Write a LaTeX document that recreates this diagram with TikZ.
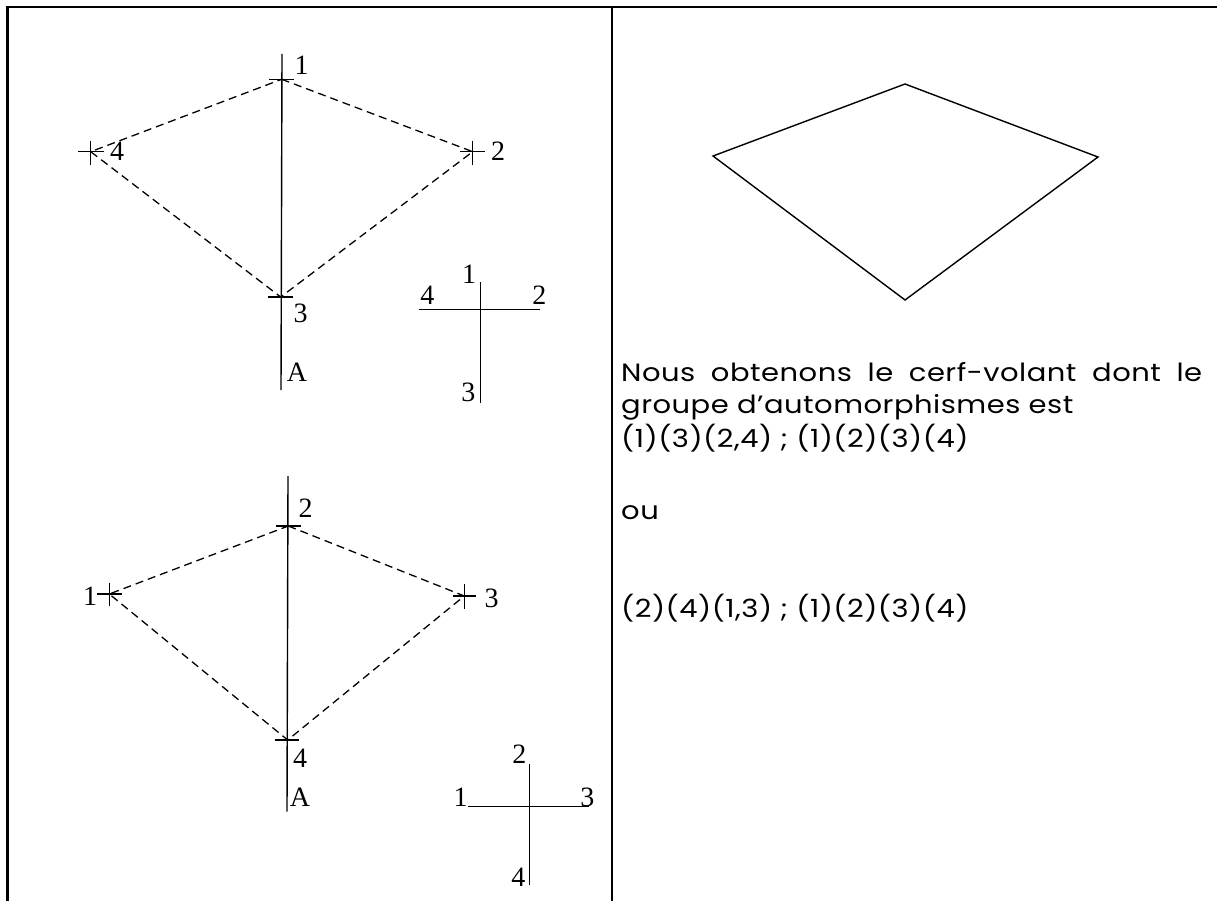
\documentclass[tikz,border=0pt]{standalone}
\usepackage{fontspec}
\setmainfont{Liberation Serif}
\newfontfamily\comicfont[LetterSpace=2,FakeStretch=1.16]{Poppins}
\begin{document}
\begin{tikzpicture}[x=1pt,y=-1pt,
  thinline/.style={line width=1.4pt},
  framestyle/.style={line width=2.6pt},
  dashline/.style={line width=1.3pt, dash pattern=on 8pt off 5pt},
  lbl/.style={font=\fontsize{28}{30}\selectfont, inner sep=0pt},
  txt/.style={font=\comicfont\fontsize{25}{28}\selectfont, inner sep=0pt, anchor=base west}]
\useasboundingbox (0,0) rectangle (1217,901);
% frame
\draw[framestyle] (7.5,901) -- (7.5,7) -- (1217,7);
\draw[framestyle] (612,7) -- (612,901);

% ---------- top-left figure ----------
\coordinate (a1) at (281.7,79.3);
\coordinate (a2) at (472.7,151.7);
\coordinate (a3) at (280.7,297);
\coordinate (a4) at (90.7,151.7);
\coordinate (aT) at (282,54);
\coordinate (aB) at (281,390);
\draw[thinline] (aT) -- (aB);
\draw[thinline] (a1) ++(-12.5,0) -- ++(25,0);
\draw[thinline] (a3) ++(-13,0) -- ++(25,0);
\draw[thinline] (a2) ++(-12.5,0) -- ++(25,0) (a2) ++(0,-11) -- ++(0,24);
\draw[thinline] (a4) ++(-13,0) -- ++(26,0) (a4) ++(0,-11) -- ++(0,24);
\draw[dashline] (a1) -- (a2) -- (a3) -- (a4) -- cycle;
\node[lbl] (la1) at (301.7,65) {1};
\node[lbl] (la2) at (498,151) {2};
\node[lbl] (la3) at (300.7,313) {3};
\node[lbl] (la4) at (117,151) {4};
\node[lbl] (laA) at (297,372) {A};

% top cross
\coordinate (c1L) at (419,309.3);
\coordinate (c1R) at (540,309.3);
\coordinate (c1T) at (480.3,282.3);
\coordinate (c1B) at (480.3,402.7);
\draw[thinline] (c1L) -- (c1R) (c1T) -- (c1B);
\node[lbl] (lc4) at (427.3,295) {4};
\node[lbl] (lc1) at (469,274) {1};
\node[lbl] (lc2) at (539.3,295) {2};
\node[lbl] (lc3) at (468.3,392) {3};

% ---------- bottom-left figure ----------
\coordinate (b2) at (288.3,526);
\coordinate (b3) at (464.3,596);
\coordinate (b4) at (287.7,740);
\coordinate (b1) at (109.3,594);
\coordinate (bT) at (288,476);
\coordinate (bB) at (287,811.7);
\draw[thinline] (bT) -- (bB);
\draw[thinline] (b2) ++(-12.5,0) -- ++(25,0);
\draw[thinline] (b4) ++(-13,0) -- ++(24,0);
\draw[thinline] (b1) ++(-12,0) -- ++(24.5,0) (b1) ++(0,-11.5) -- ++(0,23.5);
\draw[thinline] (b3) ++(-11.5,0) -- ++(23.5,0) (b3) ++(0,-12) -- ++(0,25);
\draw[dashline] (b2) -- (b3) -- (b4) -- (b1) -- cycle;
\node[lbl] (lb2) at (305.7,508.3) {2};
\node[lbl] (lb1) at (90,596.7) {1};
\node[lbl] (lb3) at (491.7,598.3) {3};
\node[lbl] (lb4) at (300,758.3) {4};
\node[lbl] (lbA) at (300,797) {A};

% bottom cross
\coordinate (c2L) at (467.7,806.7);
\coordinate (c2R) at (589.3,806.7);
\coordinate (c2T) at (529.7,764.3);
\coordinate (c2B) at (529.7,885);
\draw[thinline] (c2L) -- (c2R) (c2T) -- (c2B);
\node[lbl] (ld2) at (519.3,754) {2};
\node[lbl] (ld1) at (460.7,797) {1};
\node[lbl] (ld3) at (587.3,797) {3};
\node[lbl] (ld4) at (518.3,877) {4};

% ---------- right panel ----------
\coordinate (k1) at (905,84);
\coordinate (k2) at (1098,157);
\coordinate (k3) at (905,300);
\coordinate (k4) at (713,156);
\draw[thinline] (k1) -- (k2) -- (k3) -- (k4) -- cycle;

\node[txt] (t1) at (621,381) {\makebox[581pt][s]{Nous obtenons le cerf-volant dont le}};
\node[txt] (t2) at (621,413) {groupe d’automorphismes est};
\node[txt] (t3) at (621,447) {(1)(3)(2,4) ; (1)(2)(3)(4)};
\node[txt] (t4) at (621,519) {ou};
\node[txt] (t5) at (621,617) {(2)(4)(1,3) ; (1)(2)(3)(4)};
\end{tikzpicture}
\end{document}
